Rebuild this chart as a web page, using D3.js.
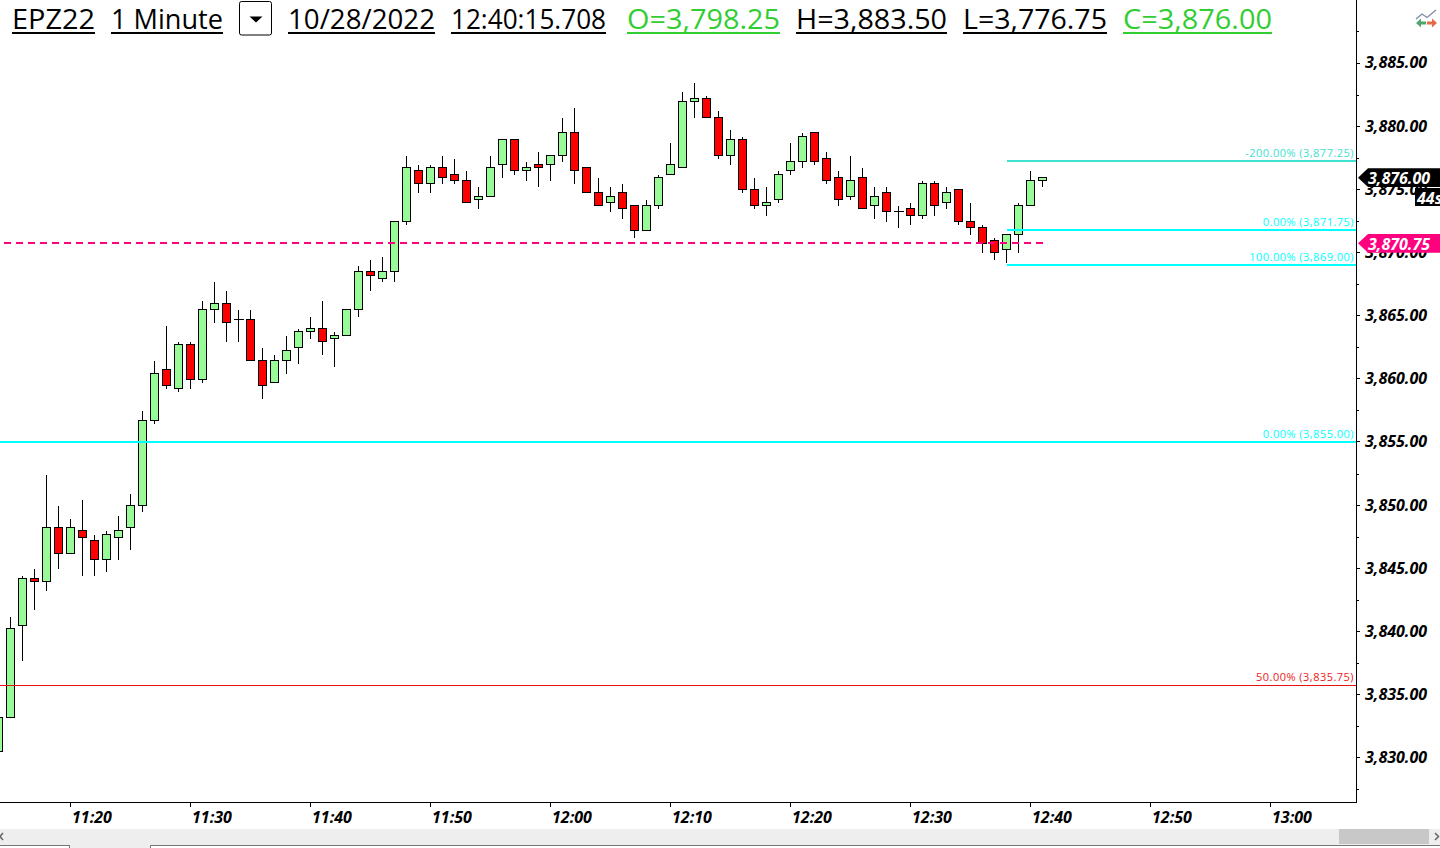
<!DOCTYPE html>
<html><head><meta charset="utf-8">
<script src="https://cdn.jsdelivr.net/npm/d3@7"></script>
<style>
html,body{margin:0;padding:0;background:#fff;overflow:hidden}
svg{display:block}
.hdr{font-family:"Open Sans",sans-serif;font-size:28px}
.tk{font-family:"Open Sans",sans-serif;font-weight:700;font-style:italic;font-size:16px;fill:#000}
.fib{font-family:"Open Sans",sans-serif;font-size:11px;letter-spacing:.47px;text-anchor:end}
</style></head><body>
<svg id="c" width="1440" height="848"></svg>
<script>
const opens=[3830.5,3833.25,3840.5,3844.25,3844,3848.25,3846.25,3848,3847.25,3845.75,3847.5,3848.25,3850,3856.75,3860.75,3859.25,3862.75,3860,3865.5,3866,3864.75,3864.75,3861.5,3859.75,3861.5,3862.5,3863.75,3864,3863.25,3863.5,3865.5,3868.5,3868,3868.5,3872.5,3876.5,3875.5,3876.75,3876.25,3875.75,3874.25,3874.5,3877,3879,3876.5,3877,3877,3877.75,3879.5,3876.75,3874.75,3874,3874.75,3873.75,3871.75,3873.75,3876.25,3876.75,3882,3882.25,3880.75,3877.75,3879,3875,3873.75,3874.25,3876.5,3877.25,3879.5,3877.5,3876,3874.5,3876,3873.75,3874.75,3873.25,3873.5,3873,3875.5,3874,3875,3872.5,3872,3871,3870.25,3871.5,3873.75,3875.75];
const highs=[3833.25,3841.25,3844.5,3845,3852.5,3850,3849,3850.5,3847.75,3848,3849.25,3851,3857.5,3861.5,3864.25,3863,3863,3866.25,3867.75,3867,3865.5,3865.5,3862.5,3862,3863.5,3864,3865,3866.25,3863.75,3865.5,3869,3869.5,3869.75,3872.5,3877.75,3877,3877,3877.75,3877.5,3876.5,3875.25,3877.75,3879,3879,3877.25,3878,3877.75,3880.75,3881.5,3876.75,3876,3875.25,3875.5,3873.75,3874.25,3876.25,3878.75,3882.75,3883.5,3882.5,3881.25,3879.75,3879.25,3876,3875.25,3876.5,3878.75,3879.5,3879.5,3878,3876.5,3877.75,3876.75,3875.25,3875.25,3873.75,3874,3875.75,3875.75,3875.25,3875,3874,3872.25,3871.25,3871.5,3874,3876.5,3876];
const lows=[3830.5,3833.25,3837.75,3841.75,3843.25,3845,3846.25,3844.5,3844.5,3844.75,3845.75,3846.5,3849.5,3856.5,3859.25,3859,3859.25,3859.75,3864.5,3863,3863,3861.5,3858.5,3859.75,3860.5,3861.25,3863.25,3862,3861,3863.5,3865,3867,3867.75,3867.75,3872.25,3874.75,3874.75,3875.5,3875.5,3874,3873.5,3874.5,3876,3876.25,3875.75,3875.25,3875.75,3877.25,3875.5,3874.75,3873.75,3873.25,3872.75,3871.25,3871.75,3873.5,3876.25,3876.75,3880.75,3880.75,3877.5,3877,3874.75,3873.5,3873,3874,3876.25,3876.75,3877,3875.5,3873.75,3874.25,3873.5,3872.75,3872.5,3872,3872.25,3872.75,3873,3873.5,3872.25,3871.5,3870,3869.5,3869.25,3870,3873.75,3875.25];
const closes=[3833.25,3840.25,3844.25,3844,3848.25,3846.25,3848.25,3847.5,3845.75,3847.75,3848,3850,3856.75,3860.5,3859.5,3862.75,3860,3865.5,3866,3864.5,3864.75,3861.5,3859.5,3861.5,3862.25,3863.75,3864,3863,3863.5,3865.5,3868.5,3868.25,3868.5,3872.5,3876.75,3875.5,3876.75,3876,3875.75,3874,3874.5,3876.75,3879,3876.5,3876.75,3876.75,3877.75,3879.5,3876.5,3874.75,3873.75,3874.5,3873.5,3871.75,3873.75,3876,3877,3882,3882.25,3880.75,3877.75,3879,3875,3873.75,3874,3876.25,3877.25,3879.25,3877.25,3875.75,3874.25,3875.75,3873.5,3874.5,3873.25,3873.25,3873,3875.5,3873.75,3874.75,3872.5,3872,3870.75,3870,3871.5,3873.75,3875.75,3876];
const firstBar=new Date(2022,9,28,11,14);
const priceTicks=[3885,3880,3875,3870,3865,3860,3855,3850,3845,3840,3835,3830];
const minorTicks=[3887.5,3882.5,3877.5,3872.5,3867.5,3862.5,3857.5,3852.5,3847.5,3842.5,3837.5,3832.5,3827.5];
const timeTicks=[[11,20],[11,30],[11,40],[11,50],[12,0],[12,10],[12,20],[12,30],[12,40],[12,50],[13,0]];
const fibLevels=[3877.25,3871.75,3869];
const fibNames=["-200.00% (3,877.25)","0.00% (3,871.75)","100.00% (3,869.00)"];
const levelPrice=3855, levelName="0.00% (3,855.00)";
const midPrice=3835.75, midName="50.00% (3,835.75)";
const lastPrice=3876, lastLabel="3,876.00";
const entryPrice=3870.75, entryLabel="3,870.75";
const headerItems=["EPZ22","1 Minute","10/28/2022","12:40:15.708","O=3,798.25","H=3,883.50","L=3,776.75","C=3,876.00"];

const svg=d3.select("#c");
const x=d3.scaleTime().domain([new Date(2022,9,28,11,20),new Date(2022,9,28,13,0)]).range([70.5,1270.5]);
const y=d3.scaleLinear().domain([3885,3830]).range([63,757.8]);
const py=v=>Math.round(y(v))+0.5;
const bars=opens.map((o,i)=>({t:d3.timeMinute.offset(firstBar,i),o,h:highs[i],l:lows[i],c:closes[i]}));

svg.append("defs").append("clipPath").attr("id","plot").append("rect").attr("x",0).attr("y",0).attr("width",1356).attr("height",802);
const plot=svg.append("g").attr("clip-path","url(#plot)").attr("shape-rendering","crispEdges");
const g=plot.selectAll("g.b").data(bars).join("g").attr("class","b").attr("transform",d=>`translate(${Math.floor(x(d.t))+0.5},0)`);
g.append("line").attr("y1",d=>py(d.h)).attr("y2",d=>py(d.l)).attr("stroke","#000");
g.append("path").attr("d",d=>{
  const a=py(Math.max(d.o,d.c)),b=py(Math.min(d.o,d.c));
  return a===b?`M-5,${a}H5`:`M-4,${a}H4V${b}H-4Z`;
}).attr("fill",d=>d.c>=d.o?"#98fb98":"#ff0000").attr("stroke","#000");

// levels
const hl=(v,x0,col,w,dash)=>{const yy=w===2?Math.round(y(v)):py(v);
  const l=plot.append("line").attr("x1",x0).attr("x2",1356).attr("y1",yy).attr("y2",yy).attr("stroke",col).attr("stroke-width",w);if(dash)l.attr("stroke-dasharray",dash);return l;};
hl(midPrice,0,"#e81010",1);
hl(levelPrice,0,"#00ffff",2);
fibLevels.forEach((v,i)=>hl(v,1007,i===0?"#40e0d0":"#00ffff",2));
hl(entryPrice,4,"#ff007f",2,"7 5").attr("x2",1044);

const lab=(v,t,col)=>svg.append("text").attr("class","fib").attr("x",1354).attr("y",Math.round(y(v))-4).attr("fill",col).text(t);
fibLevels.forEach((v,i)=>lab(v,fibNames[i],i===0?"#40e0d0":"#00ffff"));
lab(levelPrice,levelName,"#00ffff");
lab(midPrice,midName,"#f01818");

// axes
const ax=svg.append("g").attr("shape-rendering","crispEdges");
ax.append("line").attr("x1",1356.5).attr("x2",1356.5).attr("y1",0).attr("y2",802).attr("stroke","#000");
ax.append("line").attr("x1",0).attr("x2",1357).attr("y1",802.5).attr("y2",802.5).attr("stroke","#000");
const yAxis=d3.axisRight(y).tickValues(priceTicks).tickFormat(d3.format(",.2f")).tickSize(3).offset(0);
const ya=svg.append("g").attr("transform","translate(1356.5,0)").call(yAxis);
ya.select(".domain").remove();
ya.selectAll("text").attr("class","tk").attr("dy",0).attr("y",5.4).attr("x",8.5);
ya.selectAll("line").attr("stroke","#000").attr("shape-rendering","crispEdges");
svg.append("g").selectAll("line").data(minorTicks).join("line").attr("shape-rendering","crispEdges")
 .attr("x1",1357).attr("x2",1359).attr("y1",py).attr("y2",py).attr("stroke","#000");
const xAxis=d3.axisBottom(x).tickValues(timeTicks.map(([h,m])=>new Date(2022,9,28,h,m))).tickFormat(d3.timeFormat("%H:%M")).tickSize(4).offset(0);
const xa=svg.append("g").attr("transform","translate(0,802.5)").call(xAxis);
xa.select(".domain").remove();
xa.selectAll("text").attr("class","tk").attr("text-anchor","start").attr("x",1.5).attr("y",20.2).attr("dy",0);
xa.selectAll("line").attr("stroke","#000").attr("shape-rendering","crispEdges");

// header
const hx=[[12,95],[111,223],[288,435],[451,606],[627,780],[796,947],[963,1107],[1123,1272]];
const hc=["#000","#000","#000","#000","#32cd32","#000","#000","#32cd32"];
headerItems.forEach((t,i)=>{
  const [a,b]=hx[i];
  svg.append("text").attr("class","hdr").attr("x",a).attr("y",29).attr("fill",hc[i]).attr("textLength",b-a).attr("lengthAdjust","spacingAndGlyphs").text(t);
  svg.append("rect").attr("x",a).attr("y",32).attr("width",b-a).attr("height",2).attr("fill",hc[i]);
});
svg.append("rect").attr("x",239.5).attr("y",1.5).attr("width",32).attr("height",33.5).attr("rx",2).attr("fill","#fff").attr("stroke","#000");
svg.append("path").attr("d","M249.5,16.5H262.5L256,22.5Z").attr("fill","#000");

// price tags
const tag=(v,t,col,shift)=>{const c=y(v)+shift;
  svg.append("path").attr("d",`M1358,${c}L1368,${c-9.4}H1440V${c+9.4}H1368Z`).attr("fill",col);
  svg.append("text").attr("class","tk").attr("x",1368).attr("y",c+6.3).style("fill","#fff").text(t);};
tag(lastPrice,lastLabel,"#000",1);
svg.append("rect").attr("x",1415).attr("y",188).attr("width",25).attr("height",18).attr("fill","#000");
svg.append("text").attr("class","tk").attr("x",1417).attr("y",204).style("fill","#fff").text("44s");
tag(entryPrice,entryLabel,"#ff007f",0.3);

// icon
svg.append("path").attr("d","M1416,19L1422,14L1427,17.5L1436,10").attr("fill","none").attr("stroke","#7d8aa5").attr("stroke-width",1.3);
svg.append("path").attr("d","M1416,23L1421,18.5V21.5H1426V24.5H1421V27.5Z").attr("fill","#4fa66e");
svg.append("path").attr("d","M1437,23L1432,18.5V21.5H1427V24.5H1432V27.5Z").attr("fill","#e2694a");

// bottom bar
const bb=svg.append("g").attr("shape-rendering","crispEdges");
bb.append("rect").attr("x",0).attr("y",829).attr("width",1440).attr("height",19).attr("fill","#eeeeee");
bb.append("rect").attr("x",1339).attr("y",829).attr("width",90).attr("height",15).attr("fill","#c8c8c8");
bb.append("path").attr("d","M0,848V845.5H69V848M150,848V845.5H1440").attr("fill","none").attr("stroke","#777");
bb.append("rect").attr("x",0).attr("y",846).attr("width",69).attr("height",2).attr("fill","#fff");
bb.append("rect").attr("x",151).attr("y",846).attr("width",1289).attr("height",2).attr("fill","#fff");
svg.append("path").attr("d","M3,833L0,836.5L3,840").attr("fill","none").attr("stroke","#666").attr("stroke-width",1.5);
svg.append("path").attr("d","M1435,833L1438.5,836.5L1435,840").attr("fill","none").attr("stroke","#666").attr("stroke-width",1.5);
</script>
</body></html>
